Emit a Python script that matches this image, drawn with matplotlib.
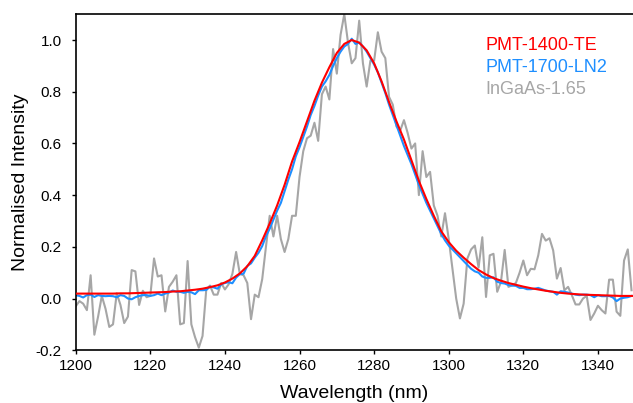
import matplotlib
matplotlib.use('Agg')
import numpy as np
import matplotlib.pyplot as plt

plt.rcParams['font.family'] = ['Liberation Sans', 'DejaVu Sans']
plt.rcParams['axes.unicode_minus'] = False

# PMT-1400-TE (2 nm steps)
red_x = np.arange(1200, 1351, 2)
red_y = [0.019, 0.019, 0.019, 0.019, 0.019, 0.019, 0.020, 0.020, 0.021, 0.022,
         0.023, 0.024, 0.025, 0.027, 0.028, 0.031, 0.034, 0.038, 0.044, 0.051,
         0.062, 0.077, 0.097, 0.125, 0.165, 0.225, 0.29, 0.36, 0.44, 0.53,
         0.605, 0.685, 0.765, 0.835, 0.895, 0.95, 0.985, 1.0, 0.99, 0.96,
         0.91, 0.84, 0.76, 0.685, 0.615, 0.535, 0.455, 0.385, 0.32, 0.26,
         0.218, 0.185, 0.158, 0.133, 0.110, 0.093, 0.079, 0.069, 0.060, 0.053,
         0.046, 0.040, 0.035, 0.030, 0.026, 0.022, 0.019, 0.017, 0.015, 0.014,
         0.013, 0.012, 0.011, 0.010, 0.010, 0.010]

# PMT-1700-LN2 (1 nm steps)
blue_x = np.arange(1200, 1350)
blue_y = [0.013, 0.010, 0.004, 0.013, 0.015, 0.006, 0.013, 0.010, 0.009, 0.010,
          0.009, 0.005, 0.013, 0.010, 0.000, -0.003, 0.005, 0.010, 0.013, 0.013,
          0.010, 0.013, 0.019, 0.013, 0.019, 0.023, 0.031, 0.026, 0.026, 0.022,
          0.026,
          0.024, 0.017, 0.032, 0.032, 0.033, 0.046, 0.043, 0.038, 0.055, 0.060,
          0.063, 0.059, 0.081, 0.094, 0.096, 0.126, 0.136, 0.158, 0.177, 0.203,
          0.241, 0.270, 0.305, 0.340, 0.370, 0.415, 0.460, 0.500,
          0.55, 0.585, 0.625, 0.665, 0.71, 0.745, 0.785, 0.82, 0.84, 0.865,
          0.90, 0.93, 0.955, 0.975, 0.985, 1.005, 0.985, 0.99, 0.975, 0.955,
          0.93, 0.905, 0.875, 0.835, 0.795, 0.75, 0.71, 0.67, 0.63, 0.59,
          0.555,
          0.52, 0.48, 0.44, 0.405, 0.37, 0.34, 0.31, 0.28, 0.25, 0.225,
          0.205, 0.19, 0.175, 0.16, 0.145, 0.13, 0.115, 0.105, 0.10, 0.085,
          0.08, 0.08, 0.082, 0.065, 0.06, 0.058, 0.052, 0.05,
          0.049, 0.041, 0.041, 0.036, 0.036, 0.038, 0.041, 0.036, 0.031, 0.028,
          0.026, 0.015, 0.028, 0.026, 0.023, 0.019, 0.015, 0.013, 0.015, 0.015,
          0.013, 0.005, 0.013, 0.009, 0.009, 0.010, 0.004, -0.010, 0.000, 0.003,
          0.005, 0.010]

# InGaAs-1.65 (1 nm steps)
gray_x = np.arange(1200, 1350)
gray_y = [-0.03, -0.01, -0.02, -0.045, 0.09, -0.14, -0.07, 0.01, -0.04, -0.11,
          -0.10, 0.02, -0.025, -0.095, -0.07, 0.11, 0.105, -0.025, 0.03, 0.005,
          0.01, 0.155, 0.085, 0.09, -0.05, 0.045, 0.065, 0.09, -0.10, -0.095,
          0.145, -0.10, -0.15, -0.19, -0.145, 0.035, 0.05, 0.015, 0.015, 0.06,
          0.035, 0.055, 0.095, 0.18, 0.095, 0.09, 0.06, -0.08, 0.015, 0.005,
          0.075, 0.20, 0.32, 0.24, 0.32, 0.23, 0.18, 0.23, 0.32, 0.32,
          0.47, 0.57, 0.62, 0.63, 0.68, 0.61, 0.79, 0.82, 0.77, 0.965,
          0.87, 1.02, 1.10, 0.99, 0.91, 0.93, 1.075, 0.91, 0.82, 0.92,
          0.92, 1.03, 0.955, 0.93, 0.78, 0.75, 0.665, 0.65, 0.69, 0.64,
          0.58, 0.60, 0.40, 0.57, 0.47, 0.49, 0.36, 0.32, 0.24, 0.33,
          0.23, 0.115, 0.0, -0.077, -0.02, 0.155, 0.19, 0.205, 0.12, 0.237,
          0.006, 0.167, 0.173, 0.026, 0.064, 0.188, 0.045, 0.051, 0.06, 0.10,
          0.147, 0.09, 0.115, 0.113, 0.167, 0.25, 0.224, 0.233, 0.186, 0.077,
          0.118, 0.032, 0.045, 0.013, -0.023, -0.023, 0.0, 0.01, -0.083, -0.058,
          -0.028, -0.045, -0.058, 0.073, 0.073, -0.051, -0.067, 0.147, 0.19, 0.032]

labels = ['PMT-1400-TE', 'PMT-1700-LN2', 'InGaAs-1.65']
colors = ['#ff0000', '#1e8fff', '#a6a6a6']

x_ticks = np.arange(1200, 1341, 20)
y_ticks = np.arange(-0.2, 1.01, 0.2)

fig = plt.figure(figsize=(6.33, 4.03), dpi=100)
ax = fig.add_axes([0.1196, 0.131, 0.8804, 0.8338])

ax.plot(gray_x, gray_y, color=colors[2], lw=1.5, zorder=1)
ax.plot(blue_x, blue_y, color=colors[1], lw=1.5, zorder=2)
ax.plot(red_x, red_y, color=colors[0], lw=1.5, zorder=3)

ax.set_xlim(1200, 1349.4)
ax.set_ylim(-0.2, 1.1)
ax.set_xticks(x_ticks)
ax.set_yticks(y_ticks)
ax.set_yticklabels(['%.1f' % v for v in y_ticks])
ax.tick_params(direction='out', length=3, width=1, labelsize=11)
ax.tick_params(axis='x', pad=3)
ax.tick_params(axis='y', pad=7)

for side in ['left', 'bottom', 'top']:
    ax.spines[side].set_linewidth(1.2)
ax.spines['right'].set_visible(False)

ax.set_xlabel('Wavelength (nm)', fontsize=14, labelpad=9)
ax.set_ylabel('Normalised Intensity', fontsize=14, labelpad=5)

# legend as coloured text
for i, (lab, c) in enumerate(zip(labels, colors)):
    ax.text(0.736, 0.893 - i * 0.0655, lab, color=c, fontsize=13,
            transform=ax.transAxes, va='baseline', ha='left')

fig.savefig('out.png', dpi=100)
